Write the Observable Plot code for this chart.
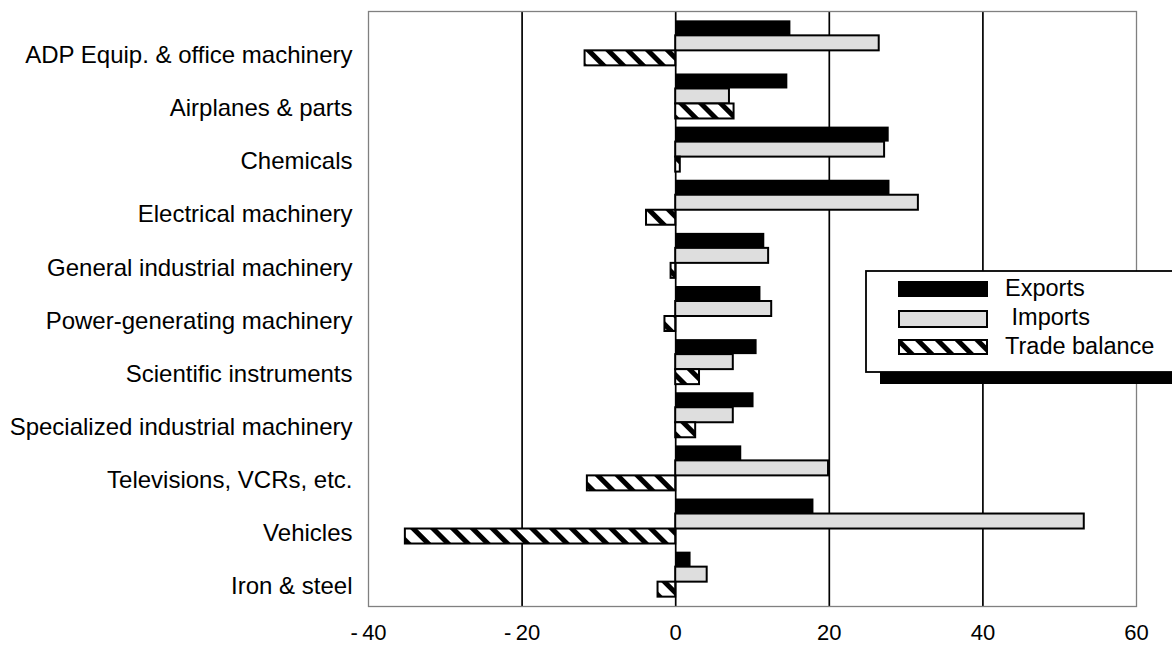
<!DOCTYPE html>
<html>
<head>
<meta charset="utf-8">
<script src="https://cdn.jsdelivr.net/npm/d3@7"></script>
<script src="https://cdn.jsdelivr.net/npm/@observablehq/plot@0.6"></script>
<style>
  html, body { margin: 0; padding: 0; background: white; overflow: hidden; }
  #chart { position: relative; width: 1172px; height: 646px; }
</style>
</head>
<body>
<div id="chart"></div>
<script>
const categories = [
  "ADP Equip. & office machinery",
  "Airplanes & parts",
  "Chemicals",
  "Electrical machinery",
  "General industrial machinery",
  "Power-generating machinery",
  "Scientific instruments",
  "Specialized industrial machinery",
  "Televisions, VCRs, etc.",
  "Vehicles",
  "Iron & steel"
];
const exportsVals = [15.0, 14.6, 27.8, 27.9, 11.6, 11.1, 10.6, 10.2, 8.6, 18.0, 2.0];
const importsVals = [26.5, 7.0, 27.2, 31.6, 12.1, 12.5, 7.5, 7.5, 19.9, 53.2, 4.1];
const balanceVals = [-11.8, 7.6, 0.6, -3.8, -0.6, -1.4, 3.1, 2.6, -11.5, -35.2, -2.3];
const xTicks = [-40, -20, 0, 20, 40, 60];
const gridTicks = [-20, 0, 20, 40];
const seriesNames = ["Exports", " Imports", "Trade balance"];

const rows = categories.map((c, i) => ({
  cat: c, exports: exportsVals[i], imports: importsVals[i], balance: balanceVals[i]
}));

const FONT = "'Liberation Sans', Arial, Helvetica, sans-serif";
const fmt = d => d < 0 ? "-\u2009" + (-d) : String(d);

const chart = Plot.plot({
  width: 1172,
  height: 646,
  marginLeft: 368,
  marginRight: 36,
  marginTop: 11,
  marginBottom: 40,
  style: { fontFamily: FONT, background: "white", color: "black" },
  x: { domain: [-40, 60], ticks: xTicks, tickFormat: fmt, label: null },
  y: { domain: categories, paddingInner: 0.153, paddingOuter: 0.176, round: false, label: null },
  marks: [
    Plot.ruleX(gridTicks, { stroke: "black", strokeWidth: 1.7 }),
    Plot.barX(rows, { y: "cat", x1: () => 0, x2: "exports", fill: "black", insetBottom: 30 }),
    Plot.barX(rows, { y: "cat", x1: () => 0, x2: "imports", fill: "#dedede", stroke: "black", strokeWidth: 2, insetTop: 15, insetBottom: 15 }),
    Plot.barX(rows, { y: "cat", x1: () => 0, x2: "balance", fill: "url(#hatch)", stroke: "black", strokeWidth: 2, insetTop: 30 }),
    Plot.frame({ stroke: "#808080", strokeWidth: 1.3 }),
    Plot.axisX(xTicks, { tickSize: 0, tickPadding: 18, fontSize: 22, tickFormat: fmt, label: null }),
    Plot.axisY({ tickSize: 0, tickPadding: 16, fontSize: 24, dy: 12, label: null })
  ]
});

document.getElementById("chart").appendChild(chart);

const svg = d3.select(chart);
const defs = svg.insert("defs", ":first-child");
const pat = defs.append("pattern")
  .attr("id", "hatch")
  .attr("patternUnits", "userSpaceOnUse")
  .attr("width", 14)
  .attr("height", 14)
  .attr("patternTransform", "rotate(-45)");
pat.append("rect").attr("width", 14).attr("height", 14).attr("fill", "white");
pat.append("rect").attr("width", 5).attr("height", 14).attr("fill", "black");

// Legend (overlaid, with drop shadow)
const lg = svg.append("g").attr("font-family", FONT).attr("font-size", 23.5).attr("text-anchor", "start");
lg.append("rect").attr("x", 880).attr("y", 283).attr("width", 400).attr("height", 101).attr("fill", "black");
lg.append("rect").attr("x", 866).attr("y", 271).attr("width", 400).attr("height", 101)
  .attr("fill", "white").attr("stroke", "black").attr("stroke-width", 1.8);
const sw = [
  { fill: "black", stroke: "none", y: 281, h: 16, tx: 1005, ty: 296 },
  { fill: "#dedede", stroke: "black", y: 311, h: 16, tx: 1005, ty: 325 },
  { fill: "url(#hatch)", stroke: "black", y: 340, h: 14, tx: 1005, ty: 354 }
];
sw.forEach((s, i) => {
  lg.append("rect").attr("x", s.stroke === "none" ? 898 : 899).attr("y", s.y)
    .attr("width", s.stroke === "none" ? 90 : 88).attr("height", s.h)
    .attr("fill", s.fill).attr("stroke", s.stroke).attr("stroke-width", 2);
  lg.append("text").attr("x", s.tx).attr("y", s.ty).attr("fill", "black")
    .attr("text-anchor", "start").attr("xml:space", "preserve").style("white-space", "pre")
    .text(seriesNames[i]);
});
</script>
</body>
</html>
